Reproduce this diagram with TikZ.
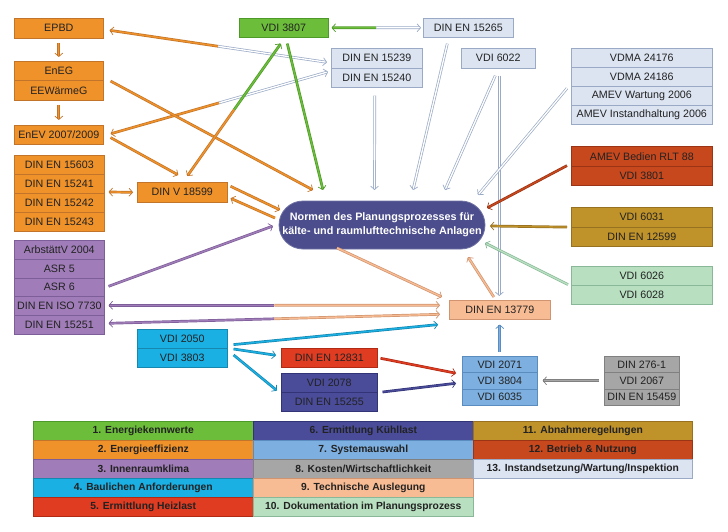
\documentclass[tikz,border=0pt]{standalone}
\usepackage{fontspec}
\setmainfont{Liberation Sans}
\usetikzlibrary{arrows.meta,calc}
\definecolor{cO}{HTML}{F0922A}\definecolor{cOd}{HTML}{C2752A}
\definecolor{cP}{HTML}{A07DB8}\definecolor{cPd}{HTML}{7E5E98}
\definecolor{cG}{HTML}{6CBE3A}\definecolor{cGd}{HTML}{4E9A28}
\definecolor{cL}{HTML}{DCE4F2}\definecolor{cLd}{HTML}{9AAAC6}
\definecolor{cR}{HTML}{C8481E}\definecolor{cRd}{HTML}{9A3414}
\definecolor{cM}{HTML}{C0922A}\definecolor{cMd}{HTML}{977020}
\definecolor{cLG}{HTML}{B8E0C0}\definecolor{cLGd}{HTML}{88B898}
\definecolor{cPe}{HTML}{F8BC94}\definecolor{cPed}{HTML}{D09470}
\definecolor{cC}{HTML}{1BB0E4}\definecolor{cCd}{HTML}{1688B0}
\definecolor{cRe}{HTML}{E03C22}\definecolor{cRed}{HTML}{B02A14}
\definecolor{cD}{HTML}{4A4C9A}\definecolor{cDd}{HTML}{333478}
\definecolor{cB}{HTML}{7DB0E0}\definecolor{cBd}{HTML}{5A8CC0}
\definecolor{cGr}{HTML}{A6A6A6}\definecolor{cGrd}{HTML}{808080}
\definecolor{cN}{HTML}{4B4D8C}
\definecolor{txt}{HTML}{222222}
\tikzset{
  cell/.style={draw=#1d, fill=#1, line width=0.6pt, rectangle, inner sep=0pt, anchor=north west,
    text=txt, font=\fontsize{10.7}{12}\selectfont},
  leg/.style={draw=#1d, fill=#1, line width=0.6pt, rectangle, inner sep=0pt, anchor=north west,
    text=txt, font=\bfseries\fontsize{10.3}{12}\selectfont, minimum height=19pt},
  tipp/.style={-{Straight Barb[length=3.5pt,width=8pt]}},
  arr/.style={line width=0.7pt, draw=#1d, double=#1, double distance=1.3pt, tipp},
  harr/.style={line width=0.7pt, draw=cLd, double=white, double distance=1.3pt, tipp},
}
\begin{document}
\begin{tikzpicture}[x=1pt,y=-1pt]
\useasboundingbox (0,0) rectangle (728,532);
% orange
\node[cell=cO, minimum width=89pt, minimum height=20pt] (epbd) at (14,18) {EPBD};
\node[cell=cO, minimum width=89pt, minimum height=19.5pt] (eneg) at (14,61) {EnEG};
\node[cell=cO, minimum width=89pt, minimum height=19.5pt] (eew) at (14,80.5) {EEWärmeG};
\node[cell=cO, minimum width=89pt, minimum height=19pt] (enev) at (14,125) {EnEV 2007/2009};
\node[cell=cO, minimum width=90pt, minimum height=19pt] (d15603) at (14,155) {DIN EN 15603};
\node[cell=cO, minimum width=90pt, minimum height=19pt] (d15241) at (14,174) {DIN EN 15241};
\node[cell=cO, minimum width=90pt, minimum height=19pt] (d15242) at (14,193) {DIN EN 15242};
\node[cell=cO, minimum width=90pt, minimum height=19pt] (d15243) at (14,212) {DIN EN 15243};
\node[cell=cO, minimum width=90pt, minimum height=20pt] (dinv) at (137,182) {DIN V 18599};
% purple
\node[cell=cP, minimum width=90pt, minimum height=18.8pt] (arb) at (14,240) {ArbstättV 2004};
\node[cell=cP, minimum width=90pt, minimum height=18.8pt] (asr5) at (14,258.8) {ASR 5};
\node[cell=cP, minimum width=90pt, minimum height=18.8pt] (asr6) at (14,277.6) {ASR 6};
\node[cell=cP, minimum width=90pt, minimum height=18.8pt] (iso) at (14,296.4) {DIN EN ISO 7730};
\node[cell=cP, minimum width=90pt, minimum height=18.8pt] (d15251) at (14,315.2) {DIN EN 15251};
% green
\node[cell=cG, minimum width=89pt, minimum height=19pt] (v3807) at (239,18) {VDI 3807};
% light blue
\node[cell=cL, minimum width=90pt, minimum height=19pt] (d15265) at (423,18) {DIN EN 15265};
\node[cell=cL, minimum width=91pt, minimum height=20pt] (d15239) at (331,48) {DIN EN 15239};
\node[cell=cL, minimum width=91pt, minimum height=19pt] (d15240) at (331,68) {DIN EN 15240};
\node[cell=cL, minimum width=74pt, minimum height=20pt] (v6022) at (461,48) {VDI 6022};
\node[cell=cL, minimum width=141pt, minimum height=19pt] (vdma1) at (571,48) {VDMA 24176};
\node[cell=cL, minimum width=141pt, minimum height=19pt] (vdma2) at (571,67) {VDMA 24186};
\node[cell=cL, minimum width=141pt, minimum height=19pt] (amevw) at (571,86) {AMEV Wartung 2006};
\node[cell=cL, minimum width=141pt, minimum height=19pt] (amevi) at (571,105) {AMEV Instandhaltung 2006};
% rust
\node[cell=cR, minimum width=141pt, minimum height=20pt] (amevb) at (571,146) {AMEV Bedien RLT 88};
\node[cell=cR, minimum width=141pt, minimum height=19pt] (v3801) at (571,166) {VDI 3801};
% mustard
\node[cell=cM, minimum width=141pt, minimum height=19.5pt] (v6031) at (571,207) {VDI 6031};
\node[cell=cM, minimum width=141pt, minimum height=19.5pt] (d12599) at (571,226.5) {DIN EN 12599};
% light green
\node[cell=cLG, minimum width=141pt, minimum height=19pt] (v6026) at (571,266) {VDI 6026};
\node[cell=cLG, minimum width=141pt, minimum height=19pt] (v6028) at (571,285) {VDI 6028};
% peach
\node[cell=cPe, minimum width=101pt, minimum height=19pt] (d13779) at (449,300) {DIN EN 13779};
% cyan
\node[cell=cC, minimum width=90pt, minimum height=19pt] (v2050) at (137,329) {VDI 2050};
\node[cell=cC, minimum width=90pt, minimum height=19pt] (v3803) at (137,348) {VDI 3803};
% red
\node[cell=cRe, minimum width=96pt, minimum height=19pt] (d12831) at (281,348) {DIN EN 12831};
% dark blue
\node[cell=cD, minimum width=96pt, minimum height=19pt] (v2078) at (281,373) {VDI 2078};
\node[cell=cD, minimum width=96pt, minimum height=19pt] (d15255) at (281,392) {DIN EN 15255};
% blue
\node[cell=cB, minimum width=75pt, minimum height=16.3pt] (v2071) at (462,356) {VDI 2071};
\node[cell=cB, minimum width=75pt, minimum height=16.3pt] (v3804) at (462,372.3) {VDI 3804};
\node[cell=cB, minimum width=75pt, minimum height=16.3pt] (v6035) at (462,388.6) {VDI 6035};
% grey
\node[cell=cGr, minimum width=75pt, minimum height=16.3pt] (d276) at (604,356) {DIN 276-1};
\node[cell=cGr, minimum width=75pt, minimum height=16.3pt] (v2067) at (604,372.3) {VDI 2067};
\node[cell=cGr, minimum width=75pt, minimum height=16.3pt] (d15459) at (604,388.6) {DIN EN 15459};
% centre
\node[fill=cN, draw=cN!80!white, line width=0.8pt, rounded corners=24pt, minimum width=206pt, minimum height=48pt,
  inner sep=0pt, text=white, font=\bfseries\fontsize{10.8}{14}\selectfont, align=center] (ctr) at (382,225)
  {Normen des Planungsprozesses für\\kälte- und raumlufttechnische Anlagen};

% ---- connectors ----
% orange chain
\draw[arr=cO] ([shift={(0,4)}]epbd.south) -- ([shift={(0,-4)}]eneg.north);
\draw[arr=cO] ([shift={(0,4)}]eew.south) -- ([shift={(0,-5)}]enev.north);
% EPBD <-> 15239
\coordinate (a1) at ([shift={(6,2)}]epbd.east);
\coordinate (b1) at ([shift={(-4,4)}]d15239.west);
\draw[arr=cO] ($(a1)!0.5!(b1)$) -- (a1);
\draw[harr] ($(a1)!0.5!(b1)$) -- (b1);
% EnEV <-> 15240
\coordinate (a2) at ([shift={(7,-1)}]enev.east);
\coordinate (b2) at ([shift={(-3,-6)}]d15240.west);
\draw[arr=cO] ($(a2)!0.5!(b2)$) -- (a2);
\draw[harr] ($(a2)!0.5!(b2)$) -- (b2);
% EnEG -> centre
\draw[arr=cO] ([shift={(7,0)}]eneg.south east) -- ([shift={(-69,-35)}]ctr.center);
% EnEV -> DIN V
\draw[arr=cO] ([shift={(7,-7)}]enev.south east) -- ([shift={(-4,-7)}]dinv.north);
% 3807 <-> DIN V
\coordinate (a3) at ([shift={(-3,6)}]v3807.south);
\coordinate (b3) at ([shift={(5,-6)}]dinv.north);
\draw[arr=cG] ($(a3)!0.5!(b3)$) -- (a3);
\draw[arr=cO] ($(a3)!0.5!(b3)$) -- (b3);
% 3807 -> centre
\draw[arr=cG] ([shift={(3.5,6)}]v3807.south) -- ([shift={(-59,-35)}]ctr.center);
% group <-> DIN V
\draw[arr=cO, {Straight Barb[length=3.5pt,width=8pt]}-{Straight Barb[length=3.5pt,width=8pt]}]
  ([shift={(4,-1)}]d15242.north east) -- ([shift={(-4,0)}]dinv.west);
% DIN V <-> centre
\draw[arr=cO] ([shift={(3,-6)}]dinv.east) -- ([shift={(-102,-15)}]ctr.center);
\draw[arr=cO] ([shift={(-107,-7)}]ctr.center) -- ([shift={(3,6)}]dinv.east);
% ASR 6 -> centre
\draw[arr=cP] ([shift={(4,-1)}]asr6.east) -- ([shift={(-109,1)}]ctr.center);
% ISO 7730 <-> 13779
\coordinate (a4) at ([shift={(4,-0.8)}]iso.east);
\coordinate (b4) at ([shift={(-9,-4.5)}]d13779.west);
\draw[arr=cP] ($(a4)!0.5!(b4)$) -- (a4);
\draw[arr=cPe] ($(a4)!0.5!(b4)$) -- (b4);
% 15251 <-> 13779
\coordinate (a5) at ([shift={(4,-1.6)}]d15251.east);
\coordinate (b5) at ([shift={(-9,4.5)}]d13779.west);
\draw[arr=cP] ($(a5)!0.5!(b5)$) -- (a5);
\draw[arr=cPe] ($(a5)!0.5!(b5)$) -- (b5);
% VDI 2050 -> 13779
\draw[arr=cC] ([shift={(6,-4)}]v2050.south east) -- ([shift={(-11,5)}]d13779.south west);
% centre <-> 13779
\draw[arr=cPe] ([shift={(-45,23)}]ctr.center) -- ([shift={(-7,-3)}]d13779.north west);
\draw[arr=cPe] ([shift={(-6,-3)}]d13779.north) -- ([shift={(86,32)}]ctr.center);
% light blue ones
\draw[harr] ([shift={(1,7)}]v6022.south) -- ([shift={(-0.5,-4)}]d13779.north);
\draw[harr] ([shift={(-3,7)}]v6022.south) -- ([shift={(63,-35)}]ctr.center);
\draw[harr] ([shift={(-21,6)}]d15265.south) -- ([shift={(31,-35)}]ctr.center);
\draw[harr] ([shift={(-2,8)}]d15240.south) -- ([shift={(-7.5,-35)}]ctr.center);
\draw[harr] ([shift={(-4,-7.5)}]amevw.west) -- ([shift={(96,-30)}]ctr.center);
% 3807 <-> 15265
\coordinate (a6) at ([shift={(3,0)}]v3807.east);
\coordinate (b6) at ([shift={(-2,0)}]d15265.west);
\draw[arr=cG] ($(a6)!0.5!(b6)$) -- (a6);
\draw[harr] ($(a6)!0.5!(b6)$) -- (b6);
% right side
\draw[arr=cR] ([shift={(-4,-1)}]amevb.south west) -- ([shift={(105,-17)}]ctr.center);
\draw[arr=cM] ([shift={(-4,0)}]v6031.south west) -- ([shift={(108,1)}]ctr.center);
\draw[arr=cLG] ([shift={(-3,-1)}]v6026.south west) -- ([shift={(103,18)}]ctr.center);
% bottom
\draw[arr=cC] ([shift={(6,1)}]v3803.north east) -- ([shift={(-5,-2.5)}]d12831.west);
\draw[arr=cC] ([shift={(6,7)}]v3803.north east) -- ([shift={(-4,-2)}]v2078.south west);
\draw[arr=cRe] ([shift={(3,0.5)}]d12831.east) -- ([shift={(-6,-7.5)}]v3804.west);
\draw[arr=cD] ([shift={(5,0)}]d15255.north east) -- ([shift={(-6,2.5)}]v3804.west);
\draw[arr=cGr] ([shift={(-5,0)}]v2067.west) -- ([shift={(5,0)}]v3804.east);
\draw[arr=cB] ([shift={(0,-4)}]v2071.north) -- ([shift={(0,5)}]d13779.south);

% ---- legend ----
\node[leg=cG, minimum width=220pt] (l1) at (33,421) {1. Energiekennwerte};
\node[leg=cO, minimum width=220pt] (l2) at (33,440) {2. Energieeffizienz};
\node[leg=cP, minimum width=220pt] (l3) at (33,459) {3. Innenraumklima};
\node[leg=cC, minimum width=220pt] (l4) at (33,478) {4. Baulichen Anforderungen};
\node[leg=cRe, minimum width=220pt] (l5) at (33,497) {5. Ermittlung Heizlast};
\node[leg=cD, minimum width=220pt] (l6) at (253,421) {6. Ermittlung Kühllast};
\node[leg=cB, minimum width=220pt] (l7) at (253,440) {7. Systemauswahl};
\node[leg=cGr, minimum width=220pt] (l8) at (253,459) {8. Kosten/Wirtschaftlichkeit};
\node[leg=cPe, minimum width=220pt] (l9) at (253,478) {9. Technische Auslegung};
\node[leg=cLG, minimum width=220pt] (l10) at (253,497) {10. Dokumentation im Planungsprozess};
\node[leg=cM, minimum width=219pt] (l11) at (473,421) {11. Abnahmeregelungen};
\node[leg=cR, minimum width=219pt] (l12) at (473,440) {12. Betrieb \& Nutzung};
\node[leg=cL, minimum width=219pt] (l13) at (473,459) {13. Instandsetzung/Wartung/Inspektion};
\end{tikzpicture}
\end{document}
